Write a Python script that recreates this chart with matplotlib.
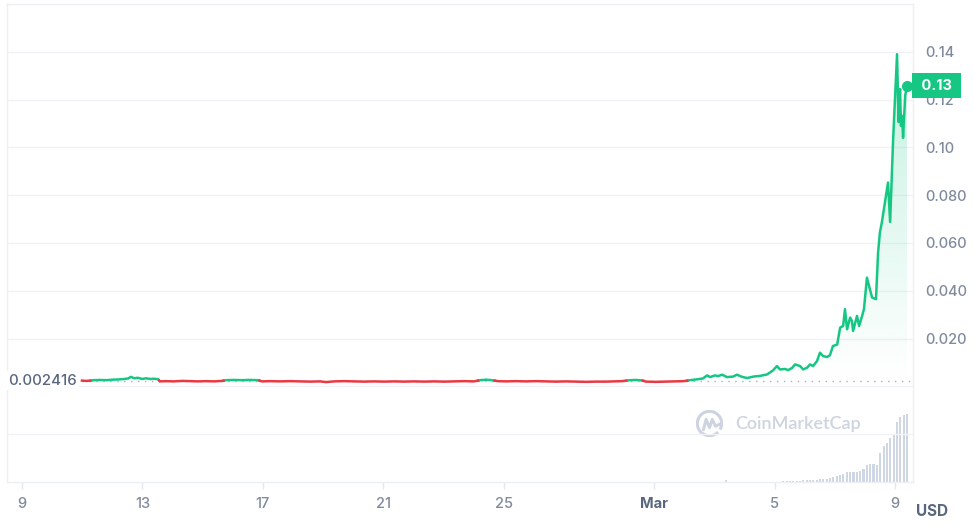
import numpy as np
import pandas as pd
import matplotlib
matplotlib.use("Agg")
import matplotlib.pyplot as plt
import matplotlib.dates as mdates
import matplotlib.transforms as mtransforms
from matplotlib.patches import Arc
from matplotlib.path import Path

START = pd.Timestamp("2024-02-09")
OPEN_PRICE = 0.002416
LAST_LABEL = "0.13"

# price, days after Feb 9 2024 -> USD
price_days = [
    1.99, 2.13, 2.26, 2.39, 2.59, 2.79, 2.99, 3.19, 3.39, 3.52, 3.62, 3.72, 3.85, 3.99,
    4.12, 4.25, 4.39, 4.52, 4.58, 4.78, 5.05, 5.32, 5.58, 5.85, 6.11, 6.38, 6.64, 6.78,
    7.04, 7.31, 7.57, 7.84, 7.97, 8.24, 8.57, 8.90, 9.24, 9.57, 9.90, 10.10, 10.37, 10.70,
    11.03, 11.36, 11.69, 12.03, 12.36, 12.69, 13.02, 13.36, 13.69, 14.02, 14.35, 14.68,
    15.02, 15.22, 15.42, 15.61, 15.81, 16.08, 16.41, 16.74, 17.08, 17.41, 17.74, 18.07,
    18.41, 18.74, 19.07, 19.40, 19.73, 19.93, 20.20, 20.40, 20.60, 20.73, 21.06, 21.40,
    21.73, 21.99, 22.19, 22.39, 22.62, 22.76, 22.86, 23.02, 23.12, 23.26, 23.42, 23.62,
    23.75, 23.92, 24.09, 24.29, 24.52, 24.75, 24.95, 25.08, 25.18, 25.35, 25.45, 25.58,
    25.68, 25.85, 25.95, 26.08, 26.18, 26.28, 26.41, 26.51, 26.61, 26.74, 26.84, 26.94,
    27.08, 27.18, 27.28, 27.34, 27.41, 27.51, 27.57, 27.61, 27.74, 27.81, 27.91, 27.97,
    28.07, 28.17, 28.24, 28.37, 28.44, 28.50, 28.57, 28.67, 28.77, 28.84, 28.94, 29.07,
    29.12, 29.17, 29.20, 29.24, 29.27, 29.34, 29.40,
]
price_usd = [
    0.002416, 0.0023, 0.0024, 0.0026, 0.0027, 0.0026, 0.0028, 0.0029, 0.0031, 0.0033,
    0.0040, 0.0034, 0.0036, 0.0031, 0.0034, 0.0031, 0.0032, 0.0030, 0.0021, 0.0022,
    0.0021, 0.0023, 0.0022, 0.0021, 0.0022, 0.0021, 0.0023, 0.0026, 0.0027, 0.0026,
    0.0027, 0.0026, 0.0021, 0.0022, 0.0021, 0.0022, 0.0021, 0.0020, 0.0021, 0.0018,
    0.0021, 0.0022, 0.0021, 0.0020, 0.0021, 0.0020, 0.0021, 0.0020, 0.0021, 0.0020,
    0.0021, 0.0020, 0.0021, 0.0022, 0.0021, 0.0026, 0.0028, 0.0026, 0.0022, 0.0021,
    0.0022, 0.0021, 0.0022, 0.0021, 0.0020, 0.0021, 0.0020, 0.0019, 0.0020, 0.0020,
    0.0021, 0.0022, 0.0026, 0.0027, 0.0025, 0.0020, 0.0019, 0.0020, 0.0021, 0.0022,
    0.0026, 0.0029, 0.0033, 0.0046, 0.0039, 0.0046, 0.0043, 0.0049, 0.0039, 0.0041,
    0.0049, 0.0040, 0.0035, 0.0041, 0.0044, 0.0050, 0.0067, 0.0085, 0.0071, 0.0073,
    0.0068, 0.0077, 0.0092, 0.0085, 0.0071, 0.0078, 0.0092, 0.0085, 0.0106, 0.0141,
    0.0127, 0.0123, 0.0130, 0.0169, 0.0175, 0.0246, 0.0253, 0.0323, 0.0239, 0.0288,
    0.0274, 0.0232, 0.0295, 0.0253, 0.0295, 0.0323, 0.0455, 0.0406, 0.0372, 0.0365,
    0.0560, 0.0644, 0.0690, 0.0771, 0.0853, 0.0688, 0.1035, 0.1390, 0.1106, 0.1244,
    0.1090, 0.1132, 0.1040, 0.1216, 0.1258,
]

# volume bars (relative units), regular buckets from Mar 3 ~10:00
vol_start = "2024-03-03 09:36"
volume = [
    1.5, 0.2, 0.2, 0.2, 0.2, 0.2, 0.2, 0.2, 0.2, 0.2, 0.2, 0.2, 0.2, 0.2, 0.2, 0.2, 0.2,
    1.3, 1.3, 1.3, 1.4, 1.4, 1.4, 1.5, 1.5, 1.5, 1.6, 1.6,
    3.3, 3.3, 3.3, 3.5, 5.0, 6.0, 7.0, 7.5, 10.0, 10.0, 10.0, 10.3, 11.0, 13.0,
    17.0, 17.5, 17.5, 17.0, 29.0, 36.0, 39.0, 44.0, 48.0, 60.0, 65.0, 67.0, 68.0,
]

tick_days = ["2024-02-09", "2024-02-13", "2024-02-17", "2024-02-21", "2024-02-25",
             "2024-03-01", "2024-03-05", "2024-03-09"]
tick_labels = ["9", "13", "17", "21", "25", "Mar", "5", "9"]
price_ticks = [0.02, 0.04, 0.06, 0.08, 0.10, 0.12, 0.14]
price_tick_labels = ["0.020", "0.040", "0.060", "0.080", "0.10", "0.12", "0.14"]

GREEN = "#16c784"
RED = "#ea3943"
TXT = "#58667e"
TICK = "#808a9d"
GRID = "#f0f2f5"
plt.rcParams["font.family"] = ["Inter", "DejaVu Sans"]
plt.rcParams["font.weight"] = "medium"

t = mdates.date2num(START + pd.to_timedelta(price_days, unit="D"))
p = np.array(price_usd)
vt = mdates.date2num(pd.date_range(vol_start, periods=len(volume), freq="160min"))

fig = plt.figure(figsize=(9.74, 5.27), dpi=100)
ax = fig.add_axes([7 / 974, 1 - 482 / 527, 906 / 974, 478 / 527])
xmin = mdates.date2num(START - pd.Timedelta(hours=12))
xmax = mdates.date2num(START + pd.Timedelta(days=29.6))

for s in ax.spines.values():
    s.set_color("#eceff3")
    s.set_linewidth(1)
for g in [-0.02, 0.0] + price_ticks:
    ax.axhline(g, color=GRID, lw=1, zorder=0)

# volume on its own scale at the bottom
vax = ax.twinx()
vax.set_ylim(0, max(volume) * 7)
vax.bar(vt, volume, width=(vt[1] - vt[0]) * 0.62, color="#cfd6e4", zorder=1)
vax.set_yticks([])
for s in vax.spines.values():
    s.set_visible(False)
ax.set_zorder(vax.get_zorder() + 1)
ax.patch.set_visible(False)

# gradient fill above opening price
fb = ax.fill_between(t, p, OPEN_PRICE, where=p >= OPEN_PRICE, interpolate=True,
                     facecolor="none", edgecolor="none")
grad = np.zeros((256, 1, 4))
grad[..., :3] = matplotlib.colors.to_rgb(GREEN)
grad[:, 0, 3] = np.linspace(0.25, 0.0, 256)
im = ax.imshow(grad, aspect="auto", extent=[t[0], t[-1], OPEN_PRICE, p.max()],
               origin="upper", zorder=2, interpolation="bilinear")
im.set_clip_path(Path.make_compound_path(*fb.get_paths()), ax.transData)
ax.set_xlim(xmin, xmax)
ax.set_ylim(-0.04, 0.16)

# opening price dotted line
ax.plot([t[0], xmax], [OPEN_PRICE, OPEN_PRICE], ls=(0, (1, 4)), color="#a6b0c3",
        lw=1, zorder=3)

# price line: split where it crosses the opening price, green above / red below
xs, ys = [t[0]], [p[0]]
for i in range(1, len(p)):
    a, b = p[i - 1] - OPEN_PRICE, p[i] - OPEN_PRICE
    if a * b < 0:
        f = a / (a - b)
        xs.append(t[i - 1] + f * (t[i] - t[i - 1]))
        ys.append(OPEN_PRICE)
    xs.append(t[i])
    ys.append(p[i])
xs, ys = np.array(xs), np.array(ys)
up = np.ma.masked_where(ys < OPEN_PRICE, ys)
down = np.ma.masked_where(ys > OPEN_PRICE, ys)
ax.plot(xs, up, color=GREEN, lw=1.8, zorder=4, solid_joinstyle="round")
ax.plot(xs, down, color=RED, lw=1.8, zorder=4, solid_joinstyle="round")
ax.plot(t[-1], p[-1], "o", color=GREEN, ms=7, zorder=5)

# axes ticks
ax.yaxis.tick_right()
ax.set_yticks(price_ticks)
ax.set_yticklabels(price_tick_labels)
ax.tick_params(axis="y", length=0, pad=9, labelsize=10.5, labelcolor=TICK)
ax.set_xticks(mdates.date2num(pd.to_datetime(tick_days)))
ax.set_xticklabels(tick_labels)
ax.tick_params(axis="x", length=5, width=1, color="#e3e7ee", pad=6, labelsize=10.5,
               labelcolor=TICK)
for lab in ax.get_xticklabels():
    if lab.get_text() == "Mar":
        lab.set_fontweight("bold")
        lab.set_color(TXT)

# labels
yx = mtransforms.blended_transform_factory(ax.transAxes, ax.transData)
ax.text(0.0773, OPEN_PRICE, f"{OPEN_PRICE:.6f}", transform=yx, ha="right", va="center",
        fontsize=10.8, color=TXT, zorder=6,
        bbox=dict(boxstyle="square,pad=0.15", fc="white", ec="none"))
ax.annotate(" " + LAST_LABEL + " ", xy=(1.0, p[-1]), xycoords=yx, xytext=(3.5, 0),
            textcoords="offset points", ha="left", va="center", fontsize=10.5,
            fontweight="bold", color="white", zorder=10, annotation_clip=False,
            bbox=dict(boxstyle="square,pad=0.38", fc=GREEN, ec="none"))
fig.text(932 / 974, 1 - 511 / 527, "USD", ha="center", va="center", fontsize=11,
         fontweight="bold", color=TXT)

# watermark
wm = "#cdd3df"
fig.text(735 / 974, 1 - 424 / 527, "CoinMarketCap", ha="left", va="center",
         fontsize=13, fontweight="semibold", color=wm, family=["Lato", "DejaVu Sans"])
lax = fig.add_axes([696 / 974, 1 - 437 / 527, 27 / 974, 27 / 527])
lax.set_xlim(-1, 1)
lax.set_ylim(-1, 1)
lax.axis("off")
lax.add_patch(Arc((0, 0), 1.8, 1.8, theta1=-30, theta2=315, color=wm, lw=2.2))
lax.plot([-0.45, -0.25, 0.0, 0.2, 0.45, 0.75], [-0.45, 0.3, -0.3, 0.3, -0.2, -0.05],
         color=wm, lw=2.2, solid_joinstyle="round", solid_capstyle="round")

fig.savefig("out.png", dpi=100, facecolor="white")
